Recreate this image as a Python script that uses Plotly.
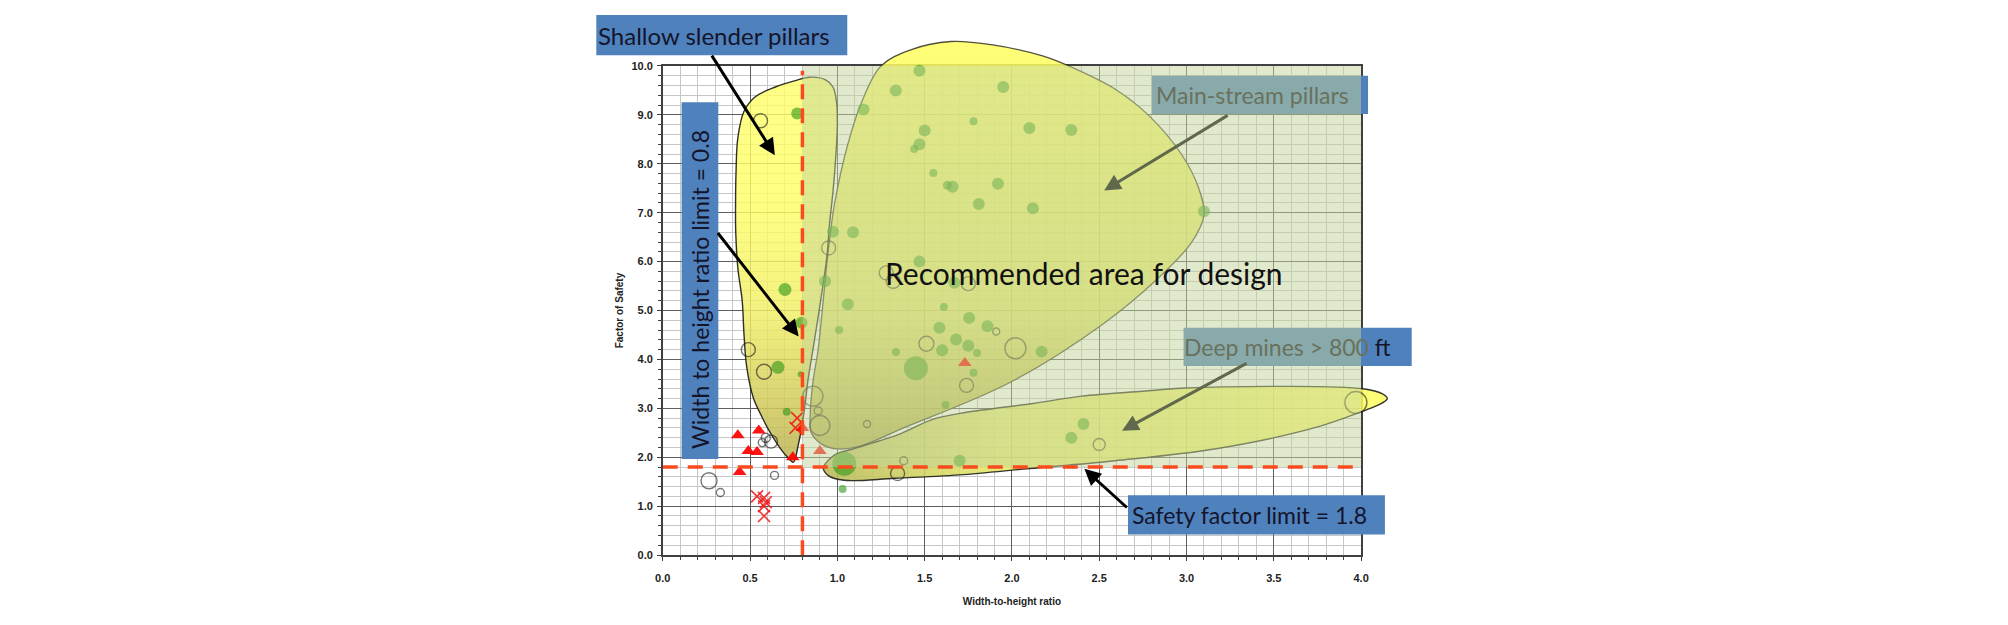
import plotly.graph_objects as go

# ---------------- data ----------------
# green filled bubbles
green_x = [0.77, 1.15, 1.335, 1.47, 1.95, 1.78, 1.50, 2.10, 2.34, 1.47, 1.44, 1.55, 1.66, 1.63,
           1.92, 1.81, 2.12, 3.10, 0.975, 1.09, 1.47, 0.70, 0.93, 1.67, 1.06, 1.61, 1.755, 1.86,
           1.585, 0.795, 1.01, 1.68, 1.75, 1.60, 1.80, 1.335, 2.17, 1.45, 0.66, 1.78, 0.79, 1.62,
           0.71, 2.41, 2.34, 1.70, 1.04, 1.03]
green_y = [9.03, 9.11, 9.50, 9.90, 9.57, 8.87, 8.68, 8.73, 8.69, 8.40, 8.30, 7.81, 7.53, 7.56,
           7.59, 7.18, 7.09, 7.03, 6.61, 6.60, 6.00, 5.43, 5.60, 5.57, 5.13, 5.07, 4.85, 4.68,
           4.65, 4.75, 4.60, 4.41, 4.28, 4.19, 4.13, 4.15, 4.16, 3.82, 3.84, 3.73, 3.70, 3.07,
           2.93, 2.68, 2.40, 1.93, 1.87, 1.35]
green_d = [12, 12, 12, 12, 12, 8, 12, 12, 12, 12, 8, 8, 12, 9,
           12, 12, 12, 12, 12, 12, 12, 13, 12, 12, 12, 8, 12, 12,
           12, 12, 8, 12, 12, 12, 8, 8, 12, 24, 13, 8, 6, 8,
           8, 12, 12, 12, 24, 8]

# hollow bubbles
hollow_x = [0.56, 0.95, 1.28, 1.32, 1.75, 1.91, 1.51, 2.02, 0.49, 0.58, 1.74, 0.86, 0.89,
            0.90, 1.17, 0.57, 0.59, 0.62, 0.64, 0.265, 0.33, 1.345, 1.38, 2.50, 3.97]
hollow_y = [8.88, 6.28, 5.77, 5.60, 5.55, 4.57, 4.32, 4.23, 4.20, 3.75, 3.47, 3.25, 2.95,
            2.65, 2.68, 2.30, 2.40, 2.32, 1.63, 1.52, 1.28, 1.67, 1.93, 2.26, 3.12]
hollow_d = [14, 14, 14, 14, 14, 7, 15, 21, 14, 15, 14, 20, 8,
            20, 7, 8, 9, 13, 8, 16, 8, 14, 8, 12, 22]

# red triangles
tri_x = [0.43, 0.55, 0.49, 0.54, 0.44, 0.745, 0.80, 0.90, 1.73]
tri_y = [2.45, 2.55, 2.13, 2.11, 1.70, 2.00, 2.60, 2.13, 3.93]

# red crosses
cross_x = [0.54, 0.58, 0.59, 0.58, 0.58, 0.77, 0.76]
cross_y = [1.20, 1.17, 1.08, 1.00, 0.80, 2.80, 2.60]

# design limits
wh_limit = 0.8
sf_limit = 1.8

# region outlines (data units)
shallow_x = [0.748, 0.71, 0.66, 0.60, 0.565, 0.52, 0.48, 0.465, 0.455, 0.43, 0.418, 0.417, 0.42,
             0.43, 0.465, 0.53, 0.645, 0.76, 0.84, 0.93, 0.975, 0.995, 1.0, 0.99, 0.975, 0.955,
             0.94, 0.89, 0.86, 0.83, 0.815, 0.795, 0.777, 0.748]
shallow_y = [1.90, 2.02, 2.25, 2.60, 2.85, 3.20, 3.87, 4.53, 5.20, 5.87, 6.60, 7.20, 7.87,
             8.53, 9.07, 9.37, 9.57, 9.70, 9.77, 9.72, 9.57, 9.27, 8.80, 8.10, 7.43, 6.77,
             6.10, 4.87, 4.20, 3.53, 3.07, 2.60, 2.27, 1.90]

main_x = [0.89, 0.91, 0.947, 0.985, 1.06, 1.14, 1.25, 1.42, 1.65, 1.89, 2.18, 2.37, 2.59, 2.78,
          2.97, 3.07, 3.10, 3.03, 2.84, 2.52, 2.0, 1.36, 1.14, 1.0, 0.91, 0.85, 0.845, 0.86, 0.89]
main_y = [4.20, 4.87, 6.20, 7.20, 8.40, 9.27, 10.0, 10.33, 10.5, 10.43, 10.2, 9.93, 9.53, 9.0,
          8.20, 7.50, 6.95, 6.40, 5.67, 4.72, 3.55, 2.57, 2.24, 2.17, 2.27, 2.50, 2.90, 3.53, 4.20]

deep_x = [2.97, 3.54, 4.01, 4.12, 4.15, 4.10, 4.03, 3.73, 3.16, 2.59, 2.10, 1.70, 1.33, 1.04,
          0.95, 0.92, 0.985, 1.08, 1.36, 1.55, 1.74, 2.12, 2.40, 2.75, 2.97]
deep_y = [3.41, 3.45, 3.40, 3.30, 3.20, 3.07, 2.97, 2.60, 2.17, 1.93, 1.77, 1.64, 1.57, 1.53,
          1.62, 1.78, 2.05, 2.16, 2.48, 2.78, 2.92, 3.10, 3.25, 3.35, 3.41]

x_ticks_range = [0, 4]
y_ticks_range = [0, 10]

# ---------------- layout geometry ----------------
PAGE_W, PAGE_H = 2008, 625
BODY = 8                       # default page margin around the plot div
W, H = PAGE_W - 2 * BODY, PAGE_H - 2 * BODY
PX0, PX1 = 660, 1364           # plot frame, page pixels
PY_TOP, PY_BOT = 61, 560
sx = (PX1 - PX0) / (x_ticks_range[1] - x_ticks_range[0])
sy = (PY_BOT - PY_TOP) / (y_ticks_range[1] - y_ticks_range[0])


def pxx(p):
    return (p - BODY) / W


def pyy(p):
    return 1 - (p - BODY) / H


FONT = "Lato"
TXT = "#14142a"
COVERED_TXT = "#69715c"
BLUE = "#4f81bd"

fig = go.Figure()

# dummy trace so the visible axes exist
fig.add_trace(go.Scatter(x=[None], y=[None], xaxis="x", yaxis="y", showlegend=False,
                         hoverinfo="skip"))

common = dict(xaxis="x2", yaxis="y2", showlegend=False, hoverinfo="skip")

# regions
fig.add_trace(go.Scatter(
    x=main_x, y=main_y, mode="lines", fill="toself",
    line=dict(color="rgba(50,50,40,0.85)", width=1.3, shape="spline", smoothing=1.0),
    fillgradient=dict(type="vertical", start=2.2, stop=10.5,
                      colorscale=[[0, "rgba(170,165,60,0.88)"], [0.35, "rgba(228,230,95,0.85)"],
                                  [1, "rgba(255,255,95,0.85)"]]),
    **common))
fig.add_trace(go.Scatter(
    x=shallow_x, y=shallow_y, mode="lines", fill="toself",
    line=dict(color="rgba(25,25,20,0.9)", width=1.4, shape="spline", smoothing=1.0),
    fillgradient=dict(type="vertical", start=1.9, stop=9.8,
                      colorscale=[[0, "rgba(185,175,85,0.88)"], [0.4, "rgba(240,238,100,0.82)"],
                                  [0.7, "rgba(255,255,100,0.8)"], [1, "rgba(255,255,105,0.8)"]]),
    **common))
fig.add_trace(go.Scatter(
    x=deep_x, y=deep_y, mode="lines", fill="toself",
    line=dict(color="rgba(30,30,25,0.9)", width=1.4, shape="spline", smoothing=1.0),
    fillgradient=dict(type="horizontal", start=0.9, stop=4.15,
                      colorscale=[[0, "rgba(185,185,90,0.88)"], [0.3, "rgba(228,230,100,0.85)"],
                                  [1, "rgba(255,255,95,0.85)"]]),
    **common))

# data points
fig.add_trace(go.Scatter(x=hollow_x, y=hollow_y, mode="markers",
                         marker=dict(symbol="circle-open", size=hollow_d,
                                     color="rgba(25,25,25,0.85)", line=dict(width=1.4)),
                         **common))
fig.add_trace(go.Scatter(x=green_x, y=green_y, mode="markers",
                         marker=dict(symbol="circle", size=green_d,
                                     color="rgba(45,150,20,0.85)", line=dict(width=0)),
                         **common))
fig.add_trace(go.Scatter(x=tri_x, y=tri_y, mode="markers",
                         marker=dict(symbol="triangle-up", size=12,
                                     color="rgba(255,0,0,0.92)", line=dict(width=0)),
                         **common))
fig.add_trace(go.Scatter(x=cross_x, y=cross_y, mode="markers",
                         marker=dict(symbol="x-thin-open", size=12,
                                     color="rgba(240,20,20,0.85)", line=dict(width=1.6)),
                         **common))

# ---------------- shapes ----------------
shapes = []
shapes.append(dict(type="rect", xref="paper", yref="paper", layer="above",
                   x0=pxx(1153), x1=pxx(1371), y0=pyy(110), y1=pyy(71),
                   fillcolor=BLUE, line=dict(width=0)))
shapes.append(dict(type="rect", xref="paper", yref="paper", layer="above",
                   x0=pxx(1185), x1=pxx(1415), y0=pyy(367), y1=pyy(328),
                   fillcolor=BLUE, line=dict(width=0)))
shapes.append(dict(type="rect", xref="x", yref="y", layer="above",
                   x0=wh_limit, x1=x_ticks_range[1], y0=sf_limit, y1=y_ticks_range[1],
                   fillcolor="rgba(195,211,153,0.5)", line=dict(width=0)))
shapes.append(dict(type="line", xref="x", yref="y", layer="above",
                   x0=wh_limit, x1=wh_limit, y0=y_ticks_range[0], y1=9.9,
                   line=dict(color="#fa4b1e", width=3.5, dash="15px,9px")))
shapes.append(dict(type="line", xref="x", yref="y", layer="above",
                   x0=x_ticks_range[0], x1=x_ticks_range[1], y0=sf_limit, y1=sf_limit,
                   line=dict(color="#fa4b1e", width=3.5, dash="15px,10px")))
shapes.append(dict(type="rect", xref="paper", yref="paper", layer="above",
                   x0=pxx(593), x1=pxx(846), y0=pyy(50), y1=pyy(9),
                   fillcolor=BLUE, line=dict(width=0)))
shapes.append(dict(type="rect", xref="paper", yref="paper", layer="above",
                   x0=pxx(679), x1=pxx(716), y0=pyy(462), y1=pyy(98),
                   fillcolor=BLUE, line=dict(width=0)))
shapes.append(dict(type="rect", xref="paper", yref="paper", layer="above",
                   x0=pxx(1129), x1=pxx(1388), y0=pyy(539), y1=pyy(499),
                   fillcolor=BLUE, line=dict(width=0)))

# ---------------- annotations ----------------
ann = []


def label(xp, yp, text, size=23, color=TXT, angle=0):
    ann.append(dict(x=pxx(xp), y=pyy(yp), xref="paper", yref="paper", text=text,
                    showarrow=False, textangle=angle, xanchor="center", yanchor="middle",
                    font=dict(family=FONT, size=size, color=color)))


def arrow(hx, hy, tx, ty, color="black"):
    ann.append(dict(x=pxx(hx), y=pyy(hy), xref="paper", yref="paper", text="",
                    showarrow=True, ax=tx - hx, ay=ty - hy, axref="pixel", ayref="pixel",
                    arrowhead=2, arrowsize=1.1, arrowwidth=3, arrowcolor=color))


label(712, 30, "Shallow slender pillars", size=24)
label(698, 289, "Width to height ratio limit = 0.8", angle=-90)
label(1255, 91, "Main-stream pillars", color=COVERED_TXT)
label(1085, 272, "Recommended area for design", size=30, color="#111111")
label(1290, 348, "<span style='color:%s'>Deep mines &gt; 800</span> ft" % COVERED_TXT)
label(1251, 519, "Safety factor limit = 1.8")

arrow(773, 152, 709, 51)
arrow(797, 337, 715, 232)
arrow(1105, 188, 1230, 112, color="#61694c")
arrow(1123, 433, 1249, 365, color="#61694c")
arrow(1085, 472, 1129, 512)

tickfont = dict(family="Liberation Sans", size=11, color="#222222", weight="bold")
titlefont = dict(family="Liberation Sans", size=10, color="#222222", weight="bold")

fig.update_layout(
    width=W, height=H,
    margin=dict(l=0, r=0, t=0, b=0, pad=0),
    paper_bgcolor="white", plot_bgcolor="rgba(0,0,0,0)",
    showlegend=False,
    shapes=shapes, annotations=ann,
    xaxis=dict(domain=[pxx(PX0), pxx(PX1)], range=x_ticks_range, anchor="y",
               tick0=0, dtick=0.5, tickformat=".1f", showgrid=True, gridcolor="#5e5e5e",
               gridwidth=1, ticks="outside", ticklen=4, tickcolor="#404040",
               showline=True, linecolor="#404040", linewidth=1.5, mirror=True, zeroline=False,
               minor=dict(dtick=0.1, showgrid=True, gridcolor="#c6c6c6", gridwidth=1,
                          ticks="outside", ticklen=3, tickcolor="#404040"),
               tickfont=tickfont, ticklabelstandoff=8,
               title=dict(text="Width-to-height ratio", font=titlefont, standoff=15),
               fixedrange=True),
    yaxis=dict(domain=[pyy(PY_BOT), pyy(PY_TOP)], range=y_ticks_range, anchor="x",
               tick0=0, dtick=1, tickformat=".1f", showgrid=True, gridcolor="#5e5e5e",
               gridwidth=1, ticks="outside", ticklen=4, tickcolor="#404040",
               showline=True, linecolor="#404040", linewidth=1.5, mirror=True, zeroline=False,
               minor=dict(dtick=0.2, showgrid=True, gridcolor="#c6c6c6", gridwidth=1,
                          ticks="outside", ticklen=3, tickcolor="#404040"),
               tickfont=tickfont, ticklabelstandoff=2,
               title=dict(text="Factor of Safety", font=titlefont, standoff=6),
               fixedrange=True),
    xaxis2=dict(domain=[0, 1], anchor="y2", visible=False, fixedrange=True,
                range=[x_ticks_range[0] - (PX0 - BODY) / sx,
                       x_ticks_range[0] + (BODY + W - PX0) / sx]),
    yaxis2=dict(domain=[0, 1], anchor="x2", visible=False, fixedrange=True,
                range=[y_ticks_range[0] - (BODY + H - PY_BOT) / sy,
                       y_ticks_range[0] + (PY_BOT - BODY) / sy]),
)

fig.write_html("out.html")
